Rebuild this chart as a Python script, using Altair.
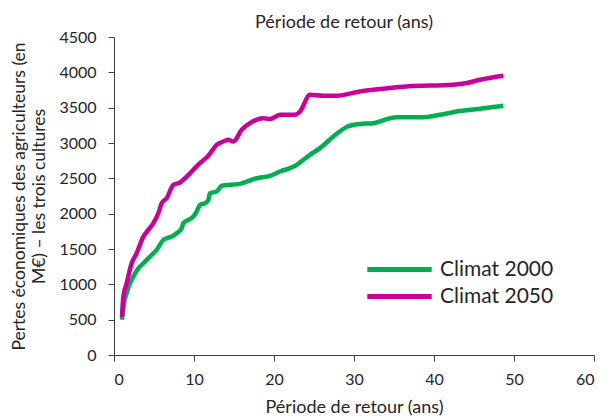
import altair as alt
import pandas as pd

# Climat 2000 (green)
x2000 = [1.0, 1.25, 1.58, 2.0, 2.42, 3.04, 3.67, 4.5, 5.33, 6.17, 6.58, 7.21, 7.83, 8.46, 8.67,
         9.29, 9.92, 10.33, 10.75, 11.38, 11.79, 12.0, 12.83, 13.46, 15.75, 17.83, 19.5, 20.75,
         22.0, 22.83, 23.67, 24.5, 25.75, 27.42, 29.2, 30.75, 32.4, 33.6, 35.3, 38.7, 40.75,
         42.8, 45.75, 48.67]
y2000 = [500, 732, 873, 1015, 1109, 1227, 1298, 1393, 1487, 1629, 1652, 1676, 1723, 1794, 1865,
         1912, 1959, 2030, 2124, 2148, 2195, 2290, 2313, 2394, 2422, 2502, 2535, 2597,
         2644, 2691, 2762, 2833, 2927, 3092, 3234, 3270, 3280, 3319, 3366, 3366, 3399,
         3446, 3484, 3527]

# Climat 2050 (magenta)
x2050 = [1.0, 1.17, 1.58, 2.21, 2.83, 3.67, 4.29, 4.92, 5.54, 5.96, 6.58, 7.42, 8.25, 8.67,
         9.71, 10.75, 11.79, 12.83, 13.67, 14.29, 14.92, 15.96, 17.0, 18.67, 19.5, 20.75,
         22.63, 23.25, 24.5, 26.17, 27.83, 30.75, 32.4, 36.6, 42.4, 44.1, 45.75, 48.67]
y2050 = [540, 826, 1015, 1298, 1440, 1676, 1770, 1865, 2006, 2148, 2219, 2408, 2441, 2479,
         2597, 2715, 2818, 2974, 3021, 3045, 3021, 3187, 3281, 3352, 3338, 3399,
         3399, 3446, 3682, 3668, 3668, 3730, 3753, 3800, 3824, 3848, 3895, 3952]

series = ["Climat 2000", "Climat 2050"]
colors = ["#00B050", "#CC0099"]

df = pd.concat([
    pd.DataFrame({"x": x2000, "y": y2000, "s": series[0]}),
    pd.DataFrame({"x": x2050, "y": y2050, "s": series[1]}),
])

FONT = "Lato"
TXT = "#262626"

chart = alt.Chart(df).mark_line(strokeWidth=4.5, interpolate="monotone").encode(
    x=alt.X("x:Q", scale=alt.Scale(domain=[0, 60], nice=False),
            axis=alt.Axis(values=[0, 10, 20, 30, 40, 50, 60], title="Période de retour (ans)",
                          grid=False, format="d", labelFontSize=16, titleFontSize=18,
                          titleFontWeight="normal", labelColor=TXT, titleColor=TXT,
                          domainColor="#404040", tickColor="#404040", tickSize=6,
                          labelPadding=10, titlePadding=11)),
    y=alt.Y("y:Q", scale=alt.Scale(domain=[0, 4500], nice=False),
            axis=alt.Axis(values=list(range(0, 4501, 500)),
                          title=["Pertes économiques des agriculteurs (en", "M€) – les trois cultures"],
                          grid=False, format="d", labelFontSize=16, titleFontSize=17.5,
                          titleFontWeight="normal", labelColor=TXT, titleColor=TXT,
                          domainColor="#404040", tickColor="#404040", tickSize=6,
                          labelPadding=12, titlePadding=10, titleLineHeight=20)),
    color=alt.Color("s:N", scale=alt.Scale(domain=series, range=colors),
                    legend=alt.Legend(title=None, orient="none", legendX=269, legendY=216,
                                      symbolType="M-2.3,0H2.3", symbolSize=784,
                                      symbolStrokeWidth=5, labelOffset=24, labelFontSize=21,
                                      labelColor=TXT, rowPadding=0, padding=0)),
).properties(
    width=480, height=318,
    title=alt.TitleParams("Période de retour (ans)", fontSize=18, fontWeight="normal",
                          color=TXT, anchor="middle", dx=-10, dy=5, offset=2),
    autosize=alt.AutoSizeParams(type="none"),
    padding={"left": 106, "top": 29, "right": 9, "bottom": 70},
).configure(font=FONT).configure_view(stroke=None)

chart.save("out.html", embed_options={"renderer": "svg", "actions": False})
